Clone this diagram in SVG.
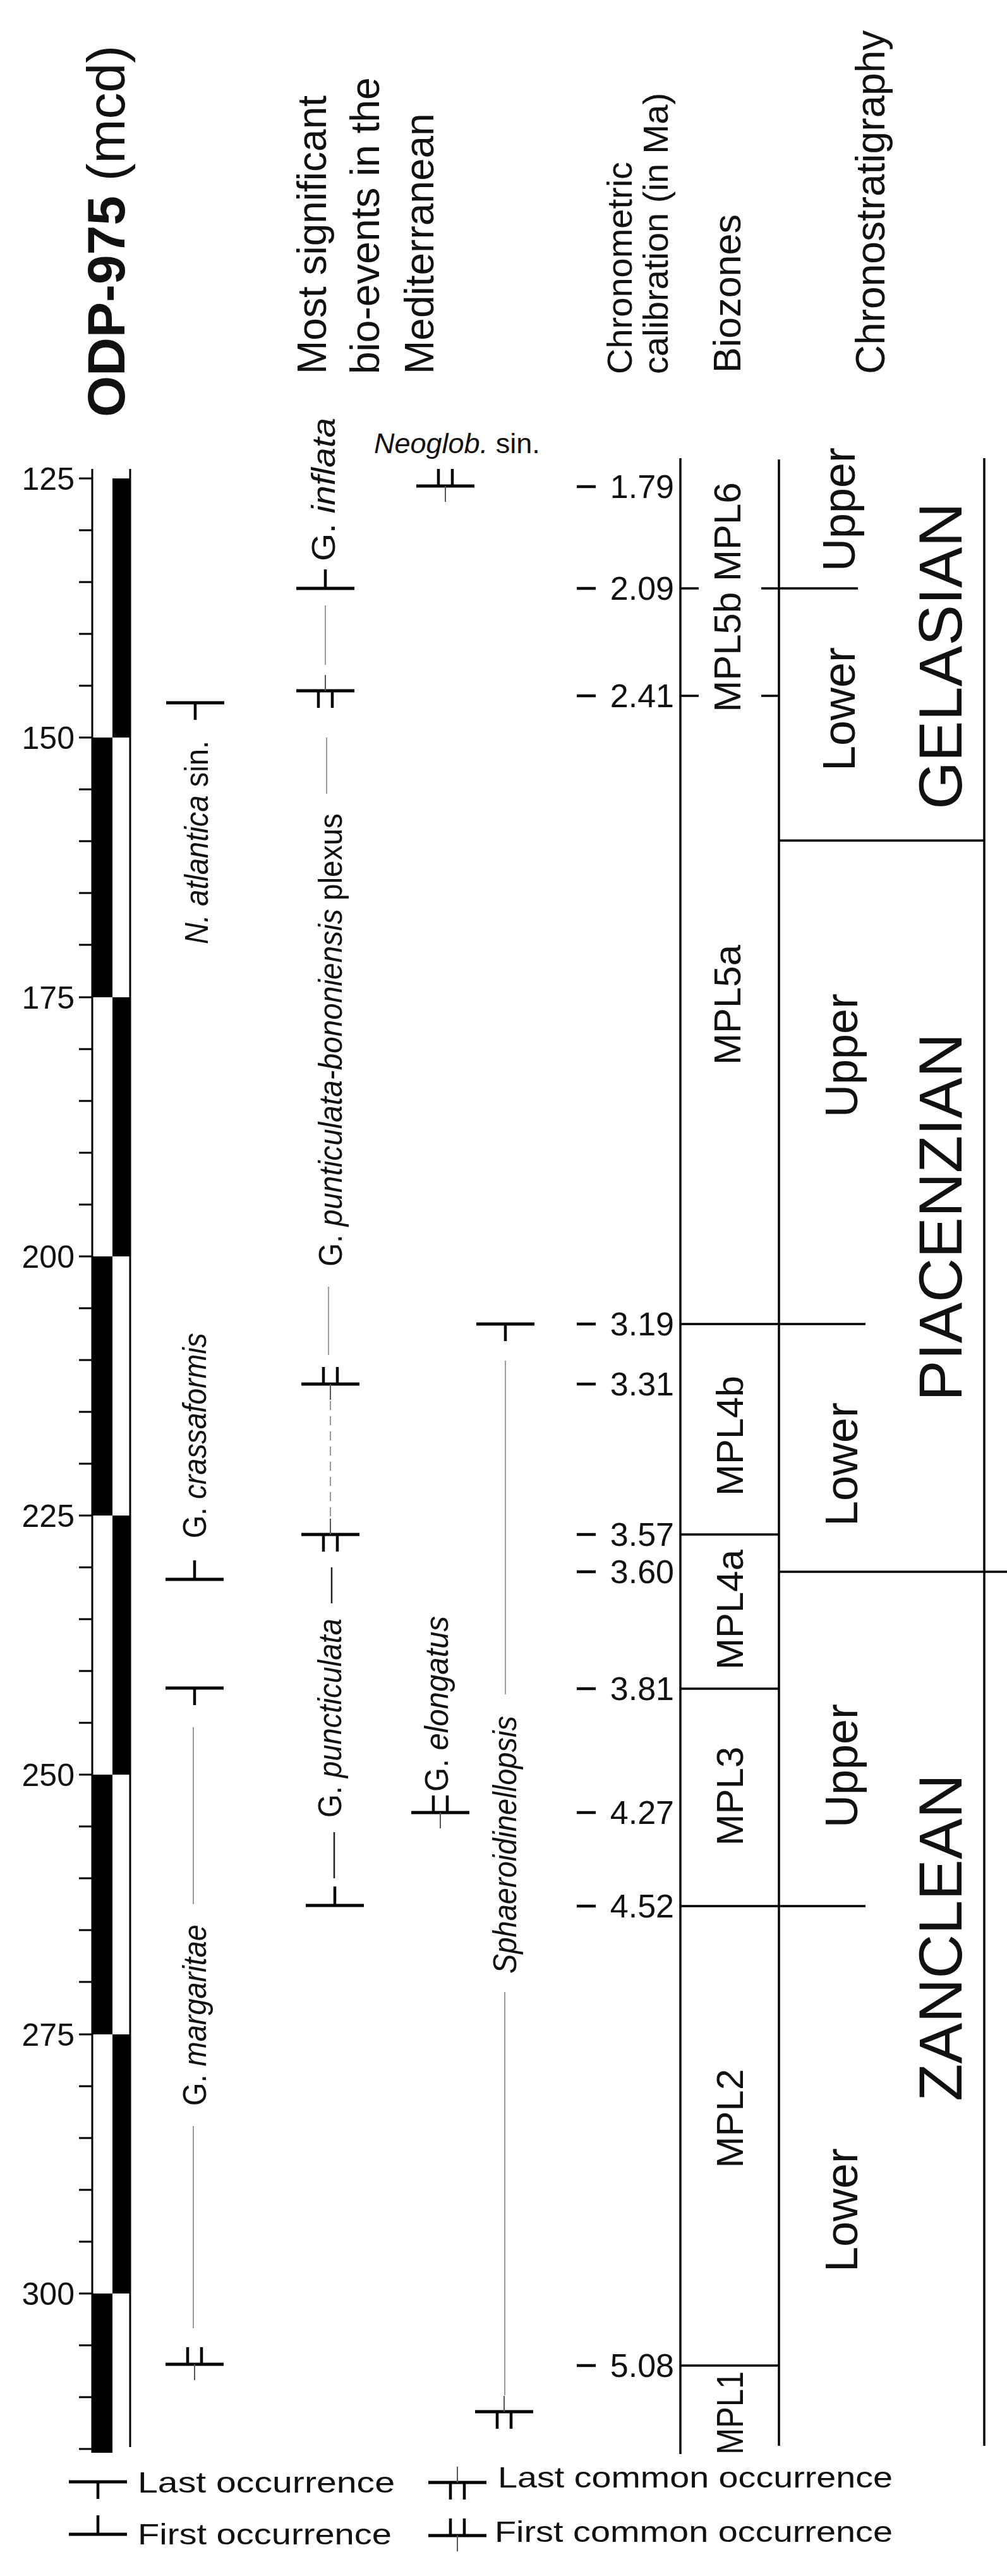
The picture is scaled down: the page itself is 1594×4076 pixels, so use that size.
<svg xmlns="http://www.w3.org/2000/svg" xmlns:xlink="http://www.w3.org/1999/xlink" width="1594" height="4076" viewBox="0 0 1594 4076">
<style>
text{font-family:"Liberation Sans",Arial,sans-serif;fill:#111}
.ln{stroke:#000;stroke-width:3.5;fill:none}
.tk{stroke:#000;stroke-width:3;fill:none}
.rng{stroke:#9a9a9a;stroke-width:2;fill:none}
.rngb{stroke:#222;stroke-width:2.5;fill:none}
.dash{stroke:#9a9a9a;stroke-width:2;fill:none;stroke-dasharray:14 10}
.sp{font-size:52px}
.it{font-style:italic}
.cal{font-size:52px;text-anchor:end}
.bz{font-size:60px;text-anchor:middle}
.sub{font-size:72px;text-anchor:middle}
.stage{font-size:97px;text-anchor:middle}
.hd{font-size:64px}
.lg{font-size:46px}
</style>
<defs>
<g id="LO"><path d="M-46 0H46" stroke="#000" stroke-width="5"/><path d="M0 0V27" stroke="#000" stroke-width="4.5"/></g>
<g id="FO"><path d="M-46 0H46" stroke="#000" stroke-width="5"/><path d="M0 0V-30" stroke="#000" stroke-width="4.5"/></g>
<g id="LCO"><path d="M-46 0H46" stroke="#000" stroke-width="5"/><path d="M-11 0V27M11 0V27" stroke="#000" stroke-width="4.5"/><path d="M0 0V-25" stroke="#555" stroke-width="2"/></g>
<g id="FCO"><path d="M-46 0H46" stroke="#000" stroke-width="5"/><path d="M-11 0V-27M11 0V-27" stroke="#000" stroke-width="4.5"/><path d="M0 0V25" stroke="#555" stroke-width="2"/></g>
</defs>
<rect width="1594" height="4076" fill="#fff"/>

<g id="headers">
<text transform="translate(197,660) rotate(-90)" font-size="84"><tspan font-weight="bold">ODP-975</tspan> (mcd)</text>
<text class="hd" transform="translate(516,592) rotate(-90)">Most significant</text>
<text class="hd" transform="translate(600,592) rotate(-90)">bio-events in the</text>
<text class="hd" transform="translate(686,592) rotate(-90)">Mediterranean</text>
<text transform="translate(1000,592) rotate(-90)" font-size="56">Chronometric</text>
<text transform="translate(1057,592) rotate(-90)" font-size="56">calibration (in Ma)</text>
<text transform="translate(1172,590) rotate(-90)" font-size="61">Biozones</text>
<text transform="translate(1400,592) rotate(-90)" font-size="64">Chronostratigraphy</text>
</g>

<g id="depth-axis">
<path class="tk" d="M125 757H146M125 839H146M125 921H146M125 1003H146M125 1085H146M125 1167H146M125 1249H146M125 1331H146M125 1413H146M125 1495H146M125 1578H146M125 1660H146M125 1742H146M125 1824H146M125 1906H146M125 1988H146M125 2070H146M125 2152H146M125 2234H146M125 2316H146M125 2398H146M125 2480H146M125 2562H146M125 2644H146M125 2726H146M125 2808H146M125 2890H146M125 2972H146M125 3054H146M125 3136H146M125 3219H146M125 3301H146M125 3383H146M125 3465H146M125 3547H146M125 3629H146M125 3711H146M125 3793H146M125 3875H146"/>
<g font-size="50" text-anchor="end">
<text x="118" y="775">125</text>
<text x="118" y="1185">150</text>
<text x="118" y="1596">175</text>
<text x="118" y="2006">200</text>
<text x="118" y="2416">225</text>
<text x="118" y="2826">250</text>
<text x="118" y="3237">275</text>
<text x="118" y="3647">300</text>
</g>
</g>

<g id="magnetic-column">
<rect x="178" y="757" width="28" height="410" fill="#000"/>
<rect x="146" y="1167" width="32" height="411" fill="#000"/>
<rect x="178" y="1578" width="28" height="410" fill="#000"/>
<rect x="146" y="1988" width="32" height="410" fill="#000"/>
<rect x="178" y="2398" width="28" height="410" fill="#000"/>
<rect x="146" y="2808" width="32" height="411" fill="#000"/>
<rect x="178" y="3219" width="28" height="410" fill="#000"/>
<rect x="146" y="3629" width="32" height="252" fill="#000"/>
<path class="tk" d="M146 742V3881M206 742V3872"/>
</g>

<g id="connectors">
<path class="rng" d="M515 958V1052M517 1167V1256M520 2036V2144M306 2733V3013M306 3364V3684M800 2153V2681M799 3152V3790"/>
<path class="dash" d="M523 2217V2404"/>
<path class="rngb" d="M525 2480V2537M529 2899V2972"/>
</g>

<g id="ev-neoglob">
<text x="592" y="717" font-size="45"><tspan class="it">Neoglob.</tspan> sin.</text>
<use xlink:href="#FCO" x="705" y="769"/>
</g>
<g id="ev-inflata">
<text class="sp" transform="translate(530,888) rotate(-90)" textLength="227" lengthAdjust="spacingAndGlyphs">G. <tspan class="it">inflata</tspan></text>
<use xlink:href="#FO" x="515" y="931"/>
</g>
<g id="ev-plexus">
<use xlink:href="#LCO" x="515" y="1093"/>
<text class="sp" transform="translate(541,2004) rotate(-90)" textLength="717" lengthAdjust="spacingAndGlyphs">G. <tspan class="it">punticulata-bononiensis</tspan> plexus</text>
<use xlink:href="#FCO" x="523" y="2190"/>
<use xlink:href="#LCO" x="523" y="2428"/>
</g>
<g id="ev-puncticulata">
<text class="sp" transform="translate(540,2876) rotate(-90)" textLength="315" lengthAdjust="spacingAndGlyphs">G. <tspan class="it">puncticulata</tspan></text>
<use xlink:href="#FO" x="530" y="3015"/>
</g>
<g id="ev-atlantica">
<use xlink:href="#LO" x="309" y="1112"/>
<text class="sp" transform="translate(329,1494) rotate(-90)" textLength="322" lengthAdjust="spacingAndGlyphs"><tspan class="it">N. atlantica</tspan> sin.</text>
</g>
<g id="ev-crassaformis">
<text class="sp" transform="translate(326,2434) rotate(-90)" textLength="325" lengthAdjust="spacingAndGlyphs">G. <tspan class="it">crassaformis</tspan></text>
<use xlink:href="#FO" x="308" y="2499"/>
</g>
<g id="ev-margaritae">
<use xlink:href="#LO" x="308" y="2671"/>
<text class="sp" transform="translate(326,3332) rotate(-90)" textLength="287" lengthAdjust="spacingAndGlyphs">G. <tspan class="it">margaritae</tspan></text>
<use xlink:href="#FCO" x="308" y="3741"/>
</g>
<g id="ev-elongatus">
<text class="sp" transform="translate(709,2835) rotate(-90)" textLength="278" lengthAdjust="spacingAndGlyphs">G. <tspan class="it">elongatus</tspan></text>
<use xlink:href="#FCO" x="697" y="2868"/>
</g>
<g id="ev-sphaeroidinellopsis">
<use xlink:href="#LO" x="800" y="2095"/>
<text class="sp it" transform="translate(817,3123) rotate(-90)" textLength="408" lengthAdjust="spacingAndGlyphs">Sphaeroidinellopsis</text>
<use xlink:href="#LCO" x="798" y="3816"/>
</g>

<g id="calibration">
<path d="M913 770H943M913 931H943M913 1101H943M913 2095H943M913 2190H943M913 2428H943M913 2487H943M913 2672H943M913 2868H943M913 3016H943M913 3743H943" stroke="#000" stroke-width="4.5"/>
<text class="cal" x="1067" y="788">1.79</text>
<text class="cal" x="1067" y="949">2.09</text>
<text class="cal" x="1067" y="1119">2.41</text>
<text class="cal" x="1067" y="2113">3.19</text>
<text class="cal" x="1067" y="2208">3.31</text>
<text class="cal" x="1067" y="2446">3.57</text>
<text class="cal" x="1067" y="2505">3.60</text>
<text class="cal" x="1067" y="2690">3.81</text>
<text class="cal" x="1067" y="2886">4.27</text>
<text class="cal" x="1067" y="3034">4.52</text>
<text class="cal" x="1067" y="3761">5.08</text>
</g>

<g id="biozones">
<path class="ln" d="M1077 725V3883M1233 727V3870M1558 725V3870"/>
<path class="ln" d="M1077 931H1106M1205 931H1358M1077 1101H1106M1205 1101H1233M1077 2095H1370M1077 2428H1233M1077 2672H1233M1077 3016H1370M1077 3743H1233M1233 1330H1558M1233 2487H1594"/>
<text class="bz" transform="translate(1172,945) rotate(-90)">MPL5b MPL6</text>
<text class="bz" transform="translate(1172,1590) rotate(-90)">MPL5a</text>
<text class="bz" transform="translate(1176,2272) rotate(-90)">MPL4b</text>
<text class="bz" transform="translate(1176,2547) rotate(-90)">MPL4a</text>
<text class="bz" transform="translate(1176,2842) rotate(-90)">MPL3</text>
<text class="bz" transform="translate(1176,3352) rotate(-90)">MPL2</text>
<text class="bz" transform="translate(1176,3818) rotate(-90)" textLength="132" lengthAdjust="spacingAndGlyphs">MPL1</text>
</g>

<g id="chronostratigraphy">
<text class="sub" transform="translate(1353,806) rotate(-90)">Upper</text>
<text class="sub" transform="translate(1353,1122) rotate(-90)">Lower</text>
<text class="sub" transform="translate(1357,1670) rotate(-90)">Upper</text>
<text class="sub" transform="translate(1357,2317) rotate(-90)">Lower</text>
<text class="sub" transform="translate(1357,2794) rotate(-90)">Upper</text>
<text class="sub" transform="translate(1357,3497) rotate(-90)">Lower</text>
<text class="stage" transform="translate(1522,1038) rotate(-90)">GELASIAN</text>
<text class="stage" transform="translate(1522,1926) rotate(-90)">PIACENZIAN</text>
<text class="stage" transform="translate(1522,3066) rotate(-90)">ZANCLEAN</text>
</g>

<g id="legend">
<use xlink:href="#LO" x="155" y="3927"/>
<text class="lg" x="218" y="3944" textLength="407" lengthAdjust="spacingAndGlyphs">Last occurrence</text>
<use xlink:href="#FO" x="155" y="4010"/>
<text class="lg" x="218" y="4026" textLength="402" lengthAdjust="spacingAndGlyphs">First occurrence</text>
<use xlink:href="#LCO" x="724" y="3928"/>
<text class="lg" x="788" y="3936" textLength="625" lengthAdjust="spacingAndGlyphs">Last common occurrence</text>
<use xlink:href="#FCO" x="724" y="4012"/>
<text class="lg" x="783" y="4022" textLength="630" lengthAdjust="spacingAndGlyphs">First common occurrence</text>
</g>
</svg>
